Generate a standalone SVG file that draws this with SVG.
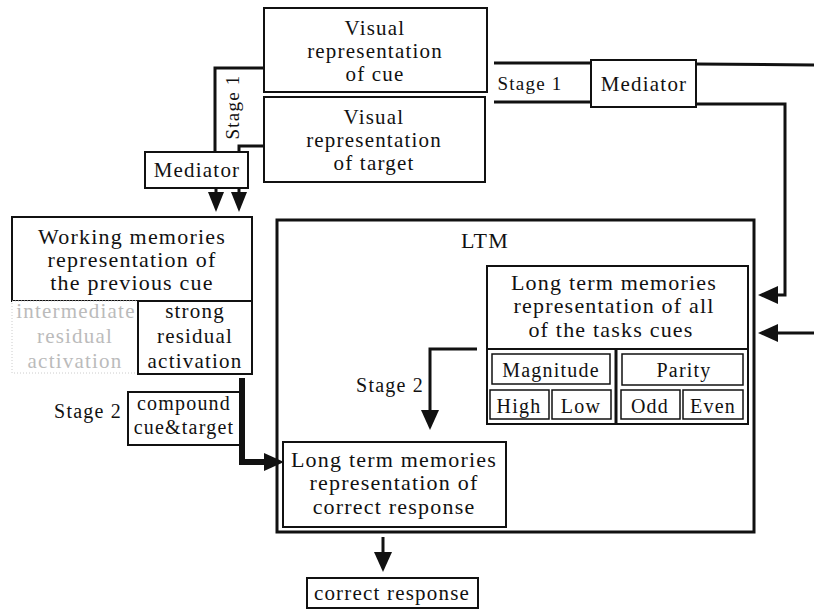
<svg xmlns="http://www.w3.org/2000/svg" width="814" height="610" viewBox="0 0 814 610" font-family="Liberation Serif, Times New Roman, serif">
<style>
text{fill:#111;text-anchor:middle;letter-spacing:1.2px}
.t22{font-size:22px}
.t21{font-size:21px}
.t20{font-size:20px}
.t19{font-size:19px}
.box{fill:#fff;stroke:#111;stroke-width:2}
.sub{fill:#fff;stroke:#111;stroke-width:1.5}
.big{fill:none;stroke:#111;stroke-width:3}
.ln{fill:none;stroke:#111;stroke-width:3}
.thick{fill:none;stroke:#111;stroke-width:6}
.grey{fill:#bbb}
</style>
<defs>
<marker id="ah" markerUnits="userSpaceOnUse" markerWidth="20" markerHeight="18" viewBox="0 0 20 18" refX="0" refY="9" orient="auto"><path d="M0,0 L20,9 L0,18 z" fill="#111"/></marker>
<marker id="ahs" markerUnits="userSpaceOnUse" markerWidth="20" markerHeight="16" viewBox="0 0 20 16" refX="0" refY="8" orient="auto"><path d="M0,0 L20,8 L0,16 z" fill="#111"/></marker>
<clipPath id="clipInt"><rect x="12" y="301" width="126" height="72"/></clipPath>
</defs>
<rect width="814" height="610" fill="#fff"/>

<g id="connectors">
<polyline class="ln" points="264,68 215,68 215,152"/>
<polyline class="ln" points="264,146 239,146 239,152"/>
<line class="ln" x1="216" y1="188" x2="216" y2="192" marker-end="url(#ahs)"/>
<line class="ln" x1="239" y1="188" x2="239" y2="192" marker-end="url(#ahs)"/>
<line class="ln" x1="494" y1="63" x2="591" y2="63"/>
<line class="ln" x1="696" y1="64" x2="814" y2="65"/>
<line class="ln" x1="494" y1="102" x2="591" y2="102"/>
<polyline class="ln" points="696,104 785,104 785,295 778,295" marker-end="url(#ah)"/>
<line class="ln" x1="814" y1="333" x2="778" y2="333" marker-end="url(#ah)"/>
<polyline class="ln" points="477,349 430,349 430,410" marker-end="url(#ah)"/>
<polyline class="thick" points="242,378 242,462 264,462" marker-end="url(#ah)"/>
<line class="ln" x1="383" y1="537" x2="383" y2="552" marker-end="url(#ah)"/>
<text class="t19" x="530" y="90">Stage 1</text>
<text class="t19" transform="translate(239,107) rotate(-90)">Stage 1</text>
<text class="t20" x="88" y="418">Stage 2</text>
<text class="t20" x="390" y="392">Stage 2</text>
</g>

<g id="visual-cue">
<rect class="box" x="264" y="8" width="223" height="84"/>
<text class="t21" x="375" y="35">Visual</text>
<text class="t21" x="375" y="58">representation</text>
<text class="t21" x="375" y="81">of cue</text>
</g>

<g id="visual-target">
<rect class="box" x="264" y="97" width="221" height="85"/>
<text class="t21" x="374" y="124">Visual</text>
<text class="t21" x="374" y="147">representation</text>
<text class="t21" x="374" y="170">of target</text>
</g>

<g id="mediator-left">
<rect class="box" x="145" y="152" width="103" height="36"/>
<text class="t21" x="197" y="177">Mediator</text>
</g>

<g id="mediator-right">
<rect class="box" x="591" y="60" width="105" height="47"/>
<text class="t21" x="644" y="91">Mediator</text>
</g>

<g id="working-memory">
<rect class="box" x="12" y="217" width="240" height="84"/>
<text class="t22" x="132" y="244">Working memories</text>
<text class="t22" x="132" y="267">representation of</text>
<text class="t22" x="132" y="290">the previous cue</text>
</g>

<g id="intermediate">
<rect x="12" y="301" width="126" height="72" fill="#fff" stroke="#ccc" stroke-width="1" stroke-dasharray="1,2"/>
<g clip-path="url(#clipInt)">
<text class="t21 grey" x="76" y="318">intermediate</text>
<text class="t21 grey" x="75" y="343">residual</text>
<text class="t21 grey" x="75" y="368">activation</text>
</g>
</g>

<g id="strong">
<rect class="box" x="138" y="301" width="114" height="73"/>
<text class="t21" x="195" y="318">strong</text>
<text class="t21" x="195" y="343">residual</text>
<text class="t21" x="195" y="368">activation</text>
</g>

<g id="compound">
<rect class="box" x="128" y="392" width="112" height="53"/>
<text class="t20" x="184" y="410">compound</text>
<text class="t20" x="184" y="434">cue&amp;target</text>
</g>

<g id="ltm">
<rect class="big" x="277" y="220" width="477" height="312"/>
<text class="t22" x="485" y="248">LTM</text>
</g>

<g id="ltm-cues">
<rect class="box" x="487" y="266" width="261" height="158"/>
<line x1="487" y1="349" x2="748" y2="349" stroke="#111" stroke-width="2"/>
<line x1="616" y1="349" x2="616" y2="424" stroke="#111" stroke-width="3"/>
<text class="t22" x="614" y="290">Long term memories</text>
<text class="t22" x="614" y="313">representation of all</text>
<text class="t22" x="611" y="337">of the tasks cues</text>
</g>

<g id="magnitude">
<rect class="sub" x="492" y="354" width="118" height="30"/>
<text class="t20" x="551" y="377">Magnitude</text>
</g>
<g id="parity">
<rect class="sub" x="622" y="354" width="121" height="31"/>
<text class="t20" x="684" y="377">Parity</text>
</g>
<g id="high">
<rect class="sub" x="490" y="390" width="59" height="29"/>
<text class="t20" x="519" y="413">High</text>
</g>
<g id="low">
<rect class="sub" x="552" y="390" width="59" height="29"/>
<text class="t20" x="581" y="413">Low</text>
</g>
<g id="odd">
<rect class="sub" x="621" y="390" width="59" height="29"/>
<text class="t20" x="650" y="413">Odd</text>
</g>
<g id="even">
<rect class="sub" x="683" y="390" width="60" height="29"/>
<text class="t20" x="713" y="413">Even</text>
</g>

<g id="ltm-response">
<rect class="box" x="283" y="442" width="223" height="85"/>
<text class="t22" x="394" y="467">Long term memories</text>
<text class="t22" x="394" y="490">representation of</text>
<text class="t22" x="394" y="514">correct response</text>
</g>

<g id="correct-response">
<rect class="box" x="307" y="578" width="171" height="30"/>
<text class="t21" x="392" y="600">correct response</text>
</g>
</svg>
